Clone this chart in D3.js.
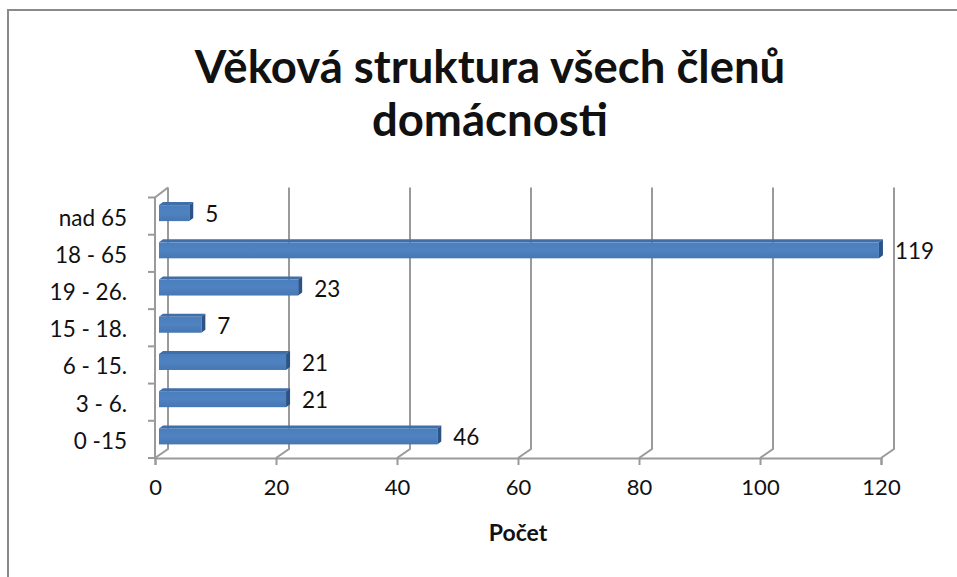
<!DOCTYPE html>
<html>
<head>
<meta charset="utf-8">
<script src="https://cdn.jsdelivr.net/npm/d3@7"></script>
<style>
  html, body { margin: 0; padding: 0; background: #fff; }
  svg { display: block; }
  text { font-family: Lato, "Open Sans", sans-serif; fill: #111; }
</style>
</head>
<body>
<svg id="chart" width="957" height="577"></svg>
<script>
// ---- data ----
const categories = ["0 -15", "3 - 6.", "6 - 15.", "15 - 18.", "19 - 26.", "18 - 65", "nad 65"];
const values = [46, 21, 21, 7, 23, 119, 5];
const xTicks = [0, 20, 40, 60, 80, 100, 120];
const titleLines = ["Věková struktura všech členů", "domácnosti"];
const xAxisTitle = "Počet";

// ---- layout ----
const W = 957, H = 577;
const plot = { left: 155, right: 881, top: 197.5, bottom: 458 };
const wall = { dx: 13, dy: -9 };        // depth of the 3D floor/wall
const barOff = { dx: 4, dy: -3 };        // front face offset of bars
const barDepth = { dx: 4, dy: -3 };      // depth of bars
const barH = 16;
const gridColor = "#9a9a9a";

const svg = d3.select("#chart");

// chart border
svg.append("rect")
  .attr("x", 8).attr("y", 10)
  .attr("width", W + 20).attr("height", H + 20)
  .attr("fill", "#fff").attr("stroke", "#8a8a8a").attr("stroke-width", 2);

const x = d3.scaleLinear().domain([0, 120]).range([plot.left, plot.right]);
const y = d3.scaleBand().domain(categories.slice().reverse()).range([plot.top, plot.bottom]);

// gridlines (back wall) with floor diagonals
const g = svg.append("g").attr("fill", "none").attr("stroke", gridColor).attr("stroke-width", 2);
xTicks.forEach(t => {
  const x0 = x(t);
  g.append("path").attr("d",
    `M${x0},${plot.bottom} L${x0 + wall.dx},${plot.bottom + wall.dy} L${x0 + wall.dx},${plot.top + wall.dy - 1}`);
});
// left wall: front axis line and top diagonal
g.append("path").attr("d",
  `M${plot.left},${plot.bottom} L${plot.left},${plot.top} L${plot.left + wall.dx},${plot.top + wall.dy - 1}`);

// y-axis ticks (band boundaries)
const bounds = categories.map((c, i) => plot.top + i * y.bandwidth()).concat([plot.bottom]);
bounds.forEach(b => {
  g.append("line").attr("x1", plot.left - 7).attr("x2", plot.left).attr("y1", b).attr("y2", b);
});

// x-axis line and ticks
const xa = svg.append("g").attr("transform", `translate(0,${plot.bottom})`)
  .call(d3.axisBottom(x).tickValues(xTicks).tickSize(7).tickPadding(14).tickFormat(d3.format("d")));
xa.select(".domain").attr("stroke", gridColor).attr("stroke-width", 2);
xa.selectAll(".tick line").attr("stroke", gridColor).attr("stroke-width", 2);
xa.selectAll(".tick text").attr("font-size", 22).attr("font-family", "Lato, sans-serif").attr("fill", "#111");

// category labels
const ya = svg.append("g").attr("transform", `translate(${plot.left},0)`)
  .call(d3.axisLeft(y).tickSize(0).tickPadding(28));
ya.select(".domain").remove();
ya.selectAll(".tick text").attr("font-size", 22.5).attr("font-family", "Lato, sans-serif").attr("fill", "#111")
  .attr("dy", "0.42em");

// defs gradient for bar front
const defs = svg.append("defs");
const grad = defs.append("linearGradient").attr("id", "barFront").attr("x1", 0).attr("y1", 0).attr("x2", 0).attr("y2", 1);
grad.append("stop").attr("offset", 0).attr("stop-color", "#4a7ebd");
grad.append("stop").attr("offset", 0.5).attr("stop-color", "#4f82c0");
grad.append("stop").attr("offset", 1).attr("stop-color", "#4677b3");

// bars
const data = categories.map((c, i) => ({ c, v: values[i] }));
const bars = svg.append("g");
data.forEach(d => {
  const fx0 = x(0) + barOff.dx;
  const fx1 = x(d.v) + barOff.dx;
  const fy = y(d.c) + y.bandwidth() / 2 + barOff.dy - barH / 2;
  const bx = barDepth.dx, by = barDepth.dy;
  // top face
  bars.append("path")
    .attr("d", `M${fx0},${fy} L${fx1},${fy} L${fx1 + bx},${fy + by} L${fx0 + bx},${fy + by} Z`)
    .attr("fill", "#3f6ea8");
  // side face
  bars.append("path")
    .attr("d", `M${fx1},${fy} L${fx1 + bx},${fy + by} L${fx1 + bx},${fy + by + barH} L${fx1},${fy + barH} Z`)
    .attr("fill", "#2c5387");
  // front face
  bars.append("rect")
    .attr("x", fx0).attr("y", fy).attr("width", fx1 - fx0).attr("height", barH)
    .attr("fill", "url(#barFront)");
  // value label
  bars.append("text")
    .attr("x", fx1 + bx + 12).attr("y", fy + barH / 2 + 1)
    .attr("dy", "0.36em")
    .attr("font-size", 22.5)
    .text(d.v);
});

// title
const cx = (plot.left + plot.right) / 2 - 28;
svg.append("text").attr("x", cx).attr("y", 83).attr("text-anchor", "middle")
  .attr("font-size", 45.5).attr("font-weight", "bold").text(titleLines[0]);
svg.append("text").attr("x", cx).attr("y", 136).attr("text-anchor", "middle")
  .attr("font-size", 45.5).attr("font-weight", "bold").text(titleLines[1]);

// axis title
svg.append("text").attr("x", (plot.left + plot.right) / 2).attr("y", 541).attr("text-anchor", "middle")
  .attr("font-size", 23).attr("font-weight", "bold").text(xAxisTitle);
</script>
</body>
</html>
